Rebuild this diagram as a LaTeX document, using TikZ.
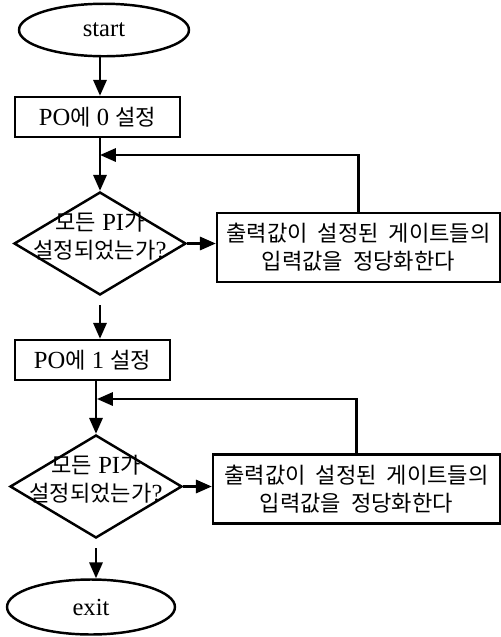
\documentclass[tikz,border=0pt]{standalone}
\usepackage{fontspec}
\setmainfont{Liberation Serif}
\newfontfamily\kr[Scale=0.9, WordSpace=2]{Noto Sans CJK KR}
\newcommand{\ko}[1]{{\kr #1}}
\usetikzlibrary{positioning}
\usetikzlibrary{arrows.meta, shapes.geometric}

\begin{document}
\begin{tikzpicture}[x=0.02cm, y=-0.02cm, line width=1.4pt,
  >={Triangle[length=9pt,width=7.5pt]},
  every node/.style = {font=\fontsize{14}{16}\selectfont},
  term/.style = {draw, ellipse, minimum width=3.4cm, minimum height=1.05cm, inner sep=0pt},
  proc/.style = {draw, rectangle, minimum height=0.8cm, inner sep=0pt},
  cond/.style = {draw, diamond, minimum width=3.44cm, minimum height=2.06cm, inner sep=0pt},
  fix/.style = {draw, rectangle, align=center, minimum height=1.38cm, inner sep=0pt}]
\useasboundingbox (0,0) rectangle (501,637);
\node[term] (start) at (104,30) {start};
\node[proc, minimum width=3.3cm] (po0) at (97.5,117) {PO\ko{에} 0 \ko{설정}};
\node[cond, label={[align=center, yshift=4pt]center:{\ko{모든} PI\ko{가}\\\ko{설정되었는가}?}}] (q1) at (100,243.5) {};
\node[fix, minimum width=5.66cm] (fix1) at (358.5,247.5) {\ko{출력값이 설정된 게이트들의}\\\ko{입력값을 정당화한다}};
\node[proc, minimum width=3.1cm] (po1) at (92.5,360) {PO\ko{에} 1 \ko{설정}};
\node[cond, label={[align=center, yshift=4pt]center:{\ko{모든} PI\ko{가}\\\ko{설정되었는가}?}}] (q2) at (96,486.5) {};
\node[fix, minimum width=5.74cm] (fix2) at (356.5,489) {\ko{출력값이 설정된 게이트들의}\\\ko{입력값을 정당화한다}};
\node[term, minimum width=3.36cm, minimum height=1.1cm] (exit) at (91,607) {exit};
\coordinate (back1) at (100,155);
\coordinate (back2) at (97,399);
% first loop
\draw[->] (start.south -| q1) -- (po0.north -| q1);
\draw[->] (po0.south -| q1) -- (q1.north);
\path (q1.east) edge [->] (fix1.west |- q1.east);
\draw[->] (fix1.north) |- (back1);
% second loop
\draw[->, shorten <=5pt] (q1.south) -- (q1.south |- po1.north);
\draw[->] (po1.south -| q2) -- (q2.north);
\path (q2.east) edge [->] (fix2.west |- q2.east);
\draw[->] (fix2.north) |- (back2);
\draw[->, shorten <=5pt] (q2.south) -- (q2.south |- exit.north);
\end{tikzpicture}
\end{document}
